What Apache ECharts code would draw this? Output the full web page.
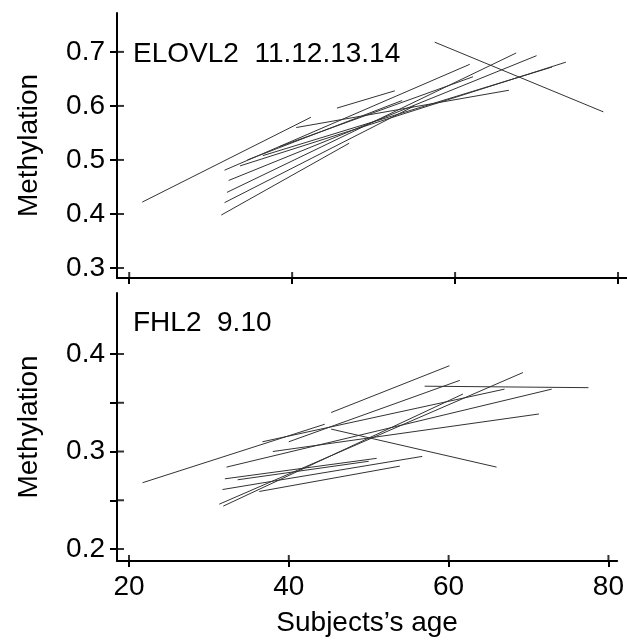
<!DOCTYPE html>
<html>
<head>
<meta charset="utf-8">
<script src="https://cdn.jsdelivr.net/npm/echarts@6/dist/echarts.min.js"></script>
<style>html,body{margin:0;padding:0;background:#fff}#c{width:627px;height:641px}</style>
</head>
<body>
<div id="c"></div>
<script>
// ---- Data: top panel (ELOVL2 11.12.13.14), each subject = one segment ----
const topStartAge  = [21.6, 31.3, 31.7, 32.0, 32.2, 31.7, 33.6, 36.4, 38.5, 40.5, 45.5, 57.5, 34.5];
const topStartMeth = [0.422, 0.398, 0.421, 0.440, 0.462, 0.481, 0.489, 0.508, 0.525, 0.560, 0.596, 0.718, 0.500];
const topEndAge    = [42.3, 47.0, 55.0, 67.5, 70.0, 61.8, 73.6, 71.9, 62.2, 66.6, 52.6, 78.2, 53.5];
const topEndMeth   = [0.579, 0.531, 0.600, 0.698, 0.693, 0.677, 0.681, 0.672, 0.654, 0.629, 0.628, 0.589, 0.610];

// ---- Data: bottom panel (FHL2 9.10) ----
const botStartAge  = [21.7, 31.3, 31.8, 32.2, 32.0, 31.7, 36.3, 33.6, 36.7, 45.3, 45.3, 57.0, 38.0, 40.0];
const botStartMeth = [0.268, 0.246, 0.244, 0.284, 0.272, 0.261, 0.259, 0.271, 0.310, 0.340, 0.323, 0.367, 0.300, 0.310];
const botEndAge    = [44.5, 69.3, 61.8, 72.9, 51.0, 56.7, 53.9, 50.0, 67.0, 60.1, 66.0, 77.5, 71.3, 61.4];
const botEndMeth   = [0.328, 0.381, 0.359, 0.364, 0.293, 0.295, 0.285, 0.290, 0.364, 0.388, 0.284, 0.3655, 0.3385, 0.373];

// ---- Tick labels ----
const xTicks = [20, 40, 60, 80];
const topYTicks = [0.3, 0.4, 0.5, 0.6, 0.7];
const botYTicks = [0.2, 0.25, 0.3, 0.35, 0.4];
const botYLabels = [0.2, 0.3, 0.4];
const topLabel = 'ELOVL2  11.12.13.14';
const botLabel = 'FHL2  9.10';
const xName = 'Subjects\u2019s age';
const yName = 'Methylation';

const FONT = 'Liberation Sans, Arial, Helvetica, sans-serif';
const FS = 28;
const GW = 510;
const XMIN = 18.5, XMAX = 81.1;
const TOP_Y = [0.2815, 0.772];
const BOT_Y = [0.1877, 0.4626];

function segs(sa, sm, ea, em, idx) {
  return sa.map((a, i) => ({
    type: 'line', xAxisIndex: idx, yAxisIndex: idx, silent: true,
    symbol: 'none', animation: false,
    lineStyle: { color: '#333', width: 1 },
    data: [[a, sm[i]], [ea[i], em[i]]]
  }));
}

// inward halves of the crossing tick marks: thin rect symbols placed on the axes through their scales
function xInnerTicks(idx, yMin) {
  return {
    type: 'scatter', xAxisIndex: idx, yAxisIndex: idx, silent: true, clip: false, z: 5,
    symbol: 'rect', symbolSize: [2, 6], symbolOffset: [0, -3],
    itemStyle: { color: '#000' },
    data: xTicks.map(v => [v, yMin])
  };
}
function yInnerTicks(idx, ticks) {
  return {
    type: 'scatter', xAxisIndex: idx, yAxisIndex: idx, silent: true, clip: false, z: 5,
    symbol: 'rect', symbolSize: [7, 2], symbolOffset: [3.5, 0],
    itemStyle: { color: '#000' },
    data: ticks.map(v => [XMIN, v])
  };
}

function xAx(grid, labels) {
  return {
    type: 'value', gridIndex: grid, min: XMIN, max: XMAX, position: 'bottom',
    axisLine: { show: true, onZero: false, lineStyle: { color: '#000', width: 2 } },
    axisTick: { show: true, length: 6, customValues: xTicks, lineStyle: { color: '#000', width: 2 } },
    axisLabel: { show: labels, customValues: xTicks, margin: 12, color: '#000', fontSize: FS, fontFamily: FONT },
    splitLine: { show: false },
    name: labels ? xName : '', nameLocation: 'middle', nameGap: 48,
    nameTextStyle: { color: '#000', fontSize: FS, fontFamily: FONT }
  };
}
function yAx(grid, range, ticks, labels) {
  return {
    type: 'value', gridIndex: grid, min: range[0], max: range[1], position: 'left',
    axisLine: { show: true, onZero: false, lineStyle: { color: '#000', width: 2 } },
    axisTick: { show: true, length: 7, customValues: ticks, lineStyle: { color: '#000', width: 2 } },
    axisLabel: { show: true, customValues: labels, margin: 12, color: '#000', fontSize: FS, fontFamily: FONT,
                 formatter: v => String(+v.toFixed(2)) },
    splitLine: { show: false },
    name: yName, nameLocation: 'middle', nameGap: 74,
    nameTextStyle: { color: '#000', fontSize: FS, fontFamily: FONT }
  };
}

const chart = echarts.init(document.getElementById('c'), null, { renderer: 'canvas' });
chart.setOption({
  animation: false,
  backgroundColor: '#fff',
  grid: [
    { left: 117, top: 13, width: GW, height: 265 },
    { left: 117, top: 293, width: GW, height: 268 }
  ],
  xAxis: [xAx(0, false), xAx(1, true)],
  yAxis: [yAx(0, TOP_Y, topYTicks, topYTicks), yAx(1, BOT_Y, botYTicks, botYLabels)],
  graphic: [
    { type: 'text', left: 133, top: 40, style: { text: topLabel, fill: '#000', font: FS + 'px ' + FONT } },
    { type: 'text', left: 133, top: 309, style: { text: botLabel, fill: '#000', font: FS + 'px ' + FONT } }
  ],
  series: [].concat(
    segs(topStartAge, topStartMeth, topEndAge, topEndMeth, 0),
    segs(botStartAge, botStartMeth, botEndAge, botEndMeth, 1),
    [xInnerTicks(0, TOP_Y[0]), yInnerTicks(0, topYTicks), xInnerTicks(1, BOT_Y[0]), yInnerTicks(1, botYTicks)]
  )
});
</script>
</body>
</html>
